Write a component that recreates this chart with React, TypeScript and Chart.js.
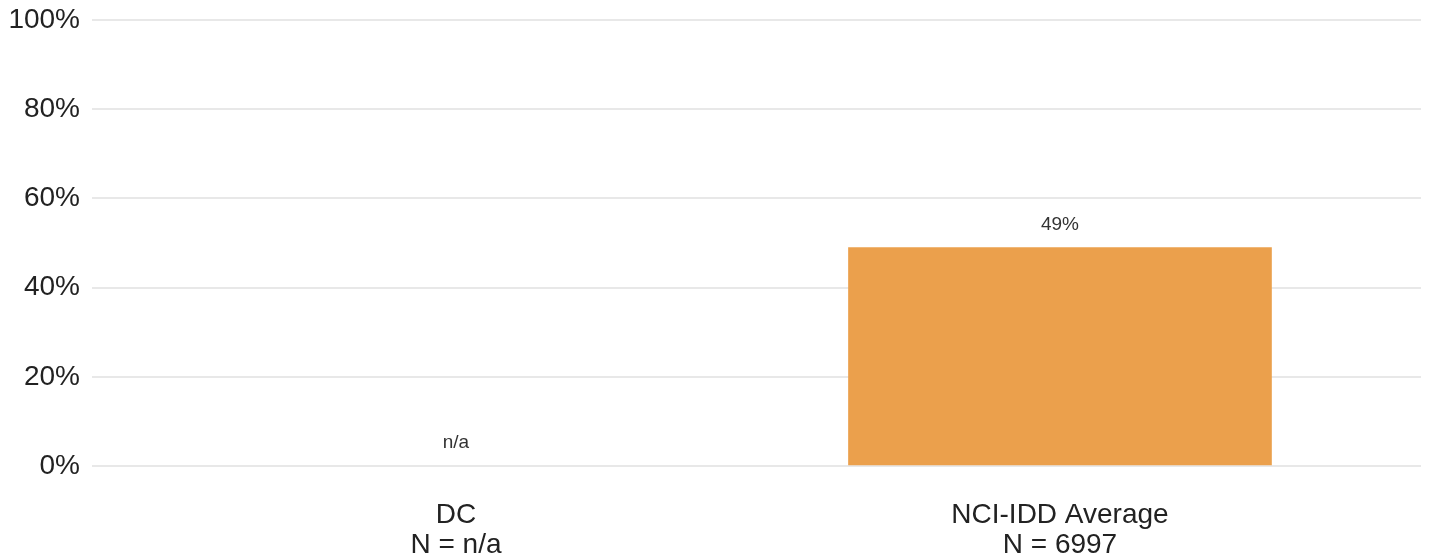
import React, { useEffect, useRef } from "react";
import { Chart, registerables } from "chart.js";

Chart.register(...registerables);

const categories = ["DC", "NCI-IDD Average"];
const sampleSizes = ["n/a", "6997"];
const values: (number | null)[] = [null, 49];
const yTicks = [0, 20, 40, 60, 80, 100];
const barColor = "#EBA04C";

const FONT = "'Liberation Sans', Arial, sans-serif";
const X_MIN = -0.6026;
const X_MAX = 1.5977;

const valueLabelPlugin = {
  id: "valueLabels",
  afterDatasetsDraw(chart: any) {
    const { ctx, scales } = chart;
    const xs = scales.x;
    const ys = scales.y;
    ctx.save();
    ctx.font = `19px ${FONT}`;
    ctx.fillStyle = "#333333";
    ctx.textAlign = "center";
    ctx.textBaseline = "middle";
    values.forEach((v, i) => {
      const x = xs.getPixelForValue(i);
      const y = ys.getPixelForValue(v ?? 0) - 23;
      ctx.fillText(v == null ? "n/a" : `${v}%`, x, y);
    });
    ctx.restore();
  },
};

export default function App() {
  const ref = useRef<HTMLCanvasElement | null>(null);
  useEffect(() => {
    document.body.style.margin = "0";
    const canvas = ref.current!;
    const chart = new Chart(canvas, {
      type: "bar",
      data: {
        datasets: [
          {
            data: values.map((v, i) => ({ x: i, y: v })) as any,
            backgroundColor: barColor,
            borderWidth: 0,
            barThickness: 423,
          },
        ],
      },
      options: {
        animation: false,
        responsive: false,
        maintainAspectRatio: false,
        layout: { padding: { top: 20, right: 8, left: 0, bottom: 0 } },
        plugins: { legend: { display: false }, tooltip: { enabled: false } },
        scales: {
          x: {
            type: "linear",
            min: X_MIN,
            max: X_MAX,
            offset: false,
            bounds: "data",
            grid: { display: false, drawTicks: false, offset: false },
            border: { display: false },
            afterDataLimits: (scale: any) => {
              scale.min = X_MIN;
              scale.max = X_MAX;
            },
            afterBuildTicks: (scale: any) => {
              scale.min = X_MIN;
              scale.max = X_MAX;
              scale.ticks = categories.map((_, i) => ({ value: i }));
            },
            afterFit: (scale: any) => {
              scale.height = 94;
            },
            ticks: {
              autoSkip: false,
              maxRotation: 0,
              padding: 34,
              color: "#222222",
              font: { family: FONT, size: 28, lineHeight: 1.07 },
              callback: (value: any) => {
                const i = Math.round(Number(value));
                return [categories[i], `N = ${sampleSizes[i]}`];
              },
            },
          },
          y: {
            min: 0,
            max: 100,
            grid: { color: "#e8e8e8", lineWidth: 2, drawTicks: false },
            border: { display: false },
            afterBuildTicks: (scale: any) => {
              scale.ticks = yTicks.map((v) => ({ value: v }));
            },
            afterFit: (scale: any) => {
              scale.width = 92;
              scale.paddingTop = 0;
              scale.paddingBottom = 0;
            },
            ticks: {
              padding: 12,
              color: "#222222",
              font: { family: FONT, size: 28, lineHeight: 0.6 },
              callback: (v: any) => `${v}%`,
            },
          },
        },
      },
      plugins: [valueLabelPlugin],
    });
    return () => chart.destroy();
  }, []);
  return <canvas ref={ref} width={1429} height={560} style={{ display: "block" }} />;
}
